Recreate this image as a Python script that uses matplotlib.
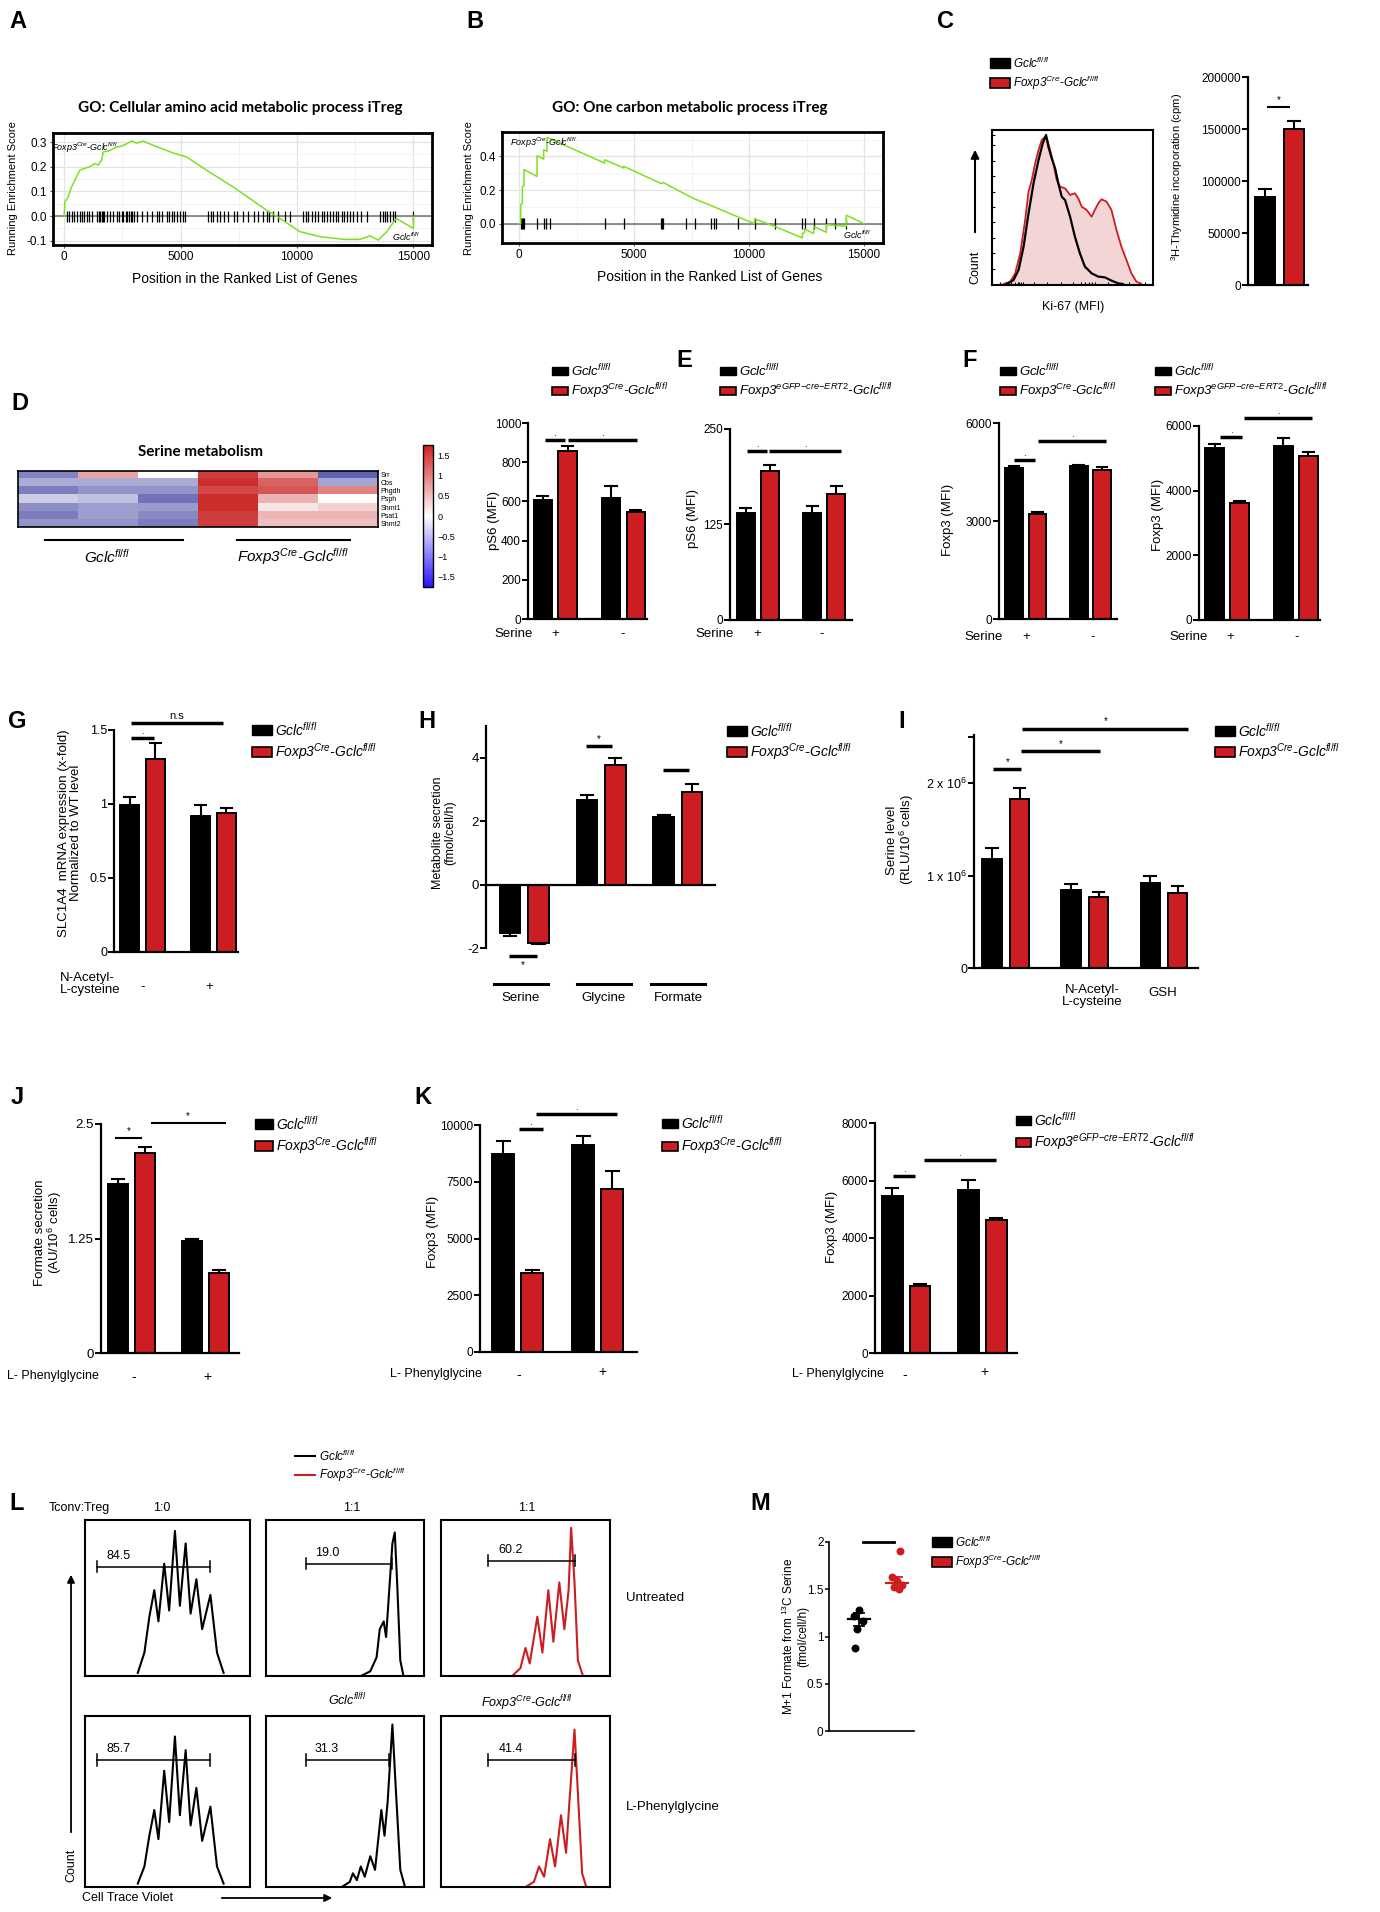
import matplotlib
matplotlib.use('Agg')
import matplotlib.pyplot as plt
from matplotlib.patches import Rectangle
from matplotlib.colors import LinearSegmentedColormap, Normalize
import matplotlib.colorbar as mcolorbar

plt.rcParams['font.family'] = ['Liberation Sans', 'DejaVu Sans']
plt.rcParams['mathtext.fontset'] = 'custom'
plt.rcParams['mathtext.rm'] = 'Liberation Sans'
plt.rcParams['mathtext.it'] = 'Liberation Sans:italic'
plt.rcParams['mathtext.bf'] = 'Liberation Sans:bold'
plt.rcParams['mathtext.default'] = 'it'
plt.rcParams['axes.unicode_minus'] = False

# ------------------------------------------------------------------ data
A_pos = [0, 30, 170, 315, 530, 673, 817, 1100, 1318, 1460, 1605, 1676, 1963, 2250, 2450, 2680,
         2894, 3110, 3395, 3825, 4685, 5258, 6117, 7264, 8696, 9270, 10129, 10989, 11991,
         12708, 13138, 13496, 13854, 14212, 14284, 15000, 15000]
A_es = [0, 0.058, 0.078, 0.118, 0.159, 0.186, 0.192, 0.2, 0.213, 0.207, 0.226, 0.26, 0.266,
        0.28, 0.283, 0.293, 0.304, 0.296, 0.304, 0.287, 0.256, 0.24, 0.186, 0.118, 0.024,
        -0.009, -0.063, -0.083, -0.094, -0.094, -0.08, -0.097, -0.063, -0.016, -0.01, -0.05, 0]
A_hits = [100, 215, 315, 415, 560, 675, 775, 845, 990, 1075, 1175, 1390, 1475, 1535, 1605, 1650,
          1720, 1820, 1965, 2080, 2250, 2365, 2465, 2535, 2650, 2720, 2795, 2850, 2910, 3010,
          3140, 3325, 3540, 3755, 3970, 4085, 4215, 4400, 4515, 4615, 4715, 4860, 4975, 5090,
          5190, 6190, 6290, 6405, 6550, 6690, 6865, 7050, 7295, 7410, 7665, 7910, 8155, 8340,
          8525, 8700, 8815, 8985, 9200, 9485, 9700, 10275, 10390, 10490, 10635, 10775, 10920,
          11065, 11165, 11280, 11420, 11565, 11680, 11780, 11920, 12025, 12140, 12280, 12425,
          12570, 12740, 13000, 13570, 13685, 13785, 13885, 14000, 14115, 14215, 15000]

B_pos = [0, 72, 72, 145, 145, 217, 217, 783, 783, 1072, 1072, 1217, 1217, 3724, 3724, 4550,
         4550, 6187, 6260, 7274, 7636, 8433, 9520, 10245, 10245, 11114, 12317, 12317, 12418,
         12418, 12809, 12809, 13360, 13360, 14229, 14229, 15000]
B_es = [0, 0, 0.113, 0.119, 0.222, 0.226, 0.321, 0.281, 0.404, 0.384, 0.44, 0.43, 0.513, 0.36,
        0.38, 0.331, 0.341, 0.238, 0.245, 0.172, 0.147, 0.103, 0.04, 0.0, 0.028, -0.016,
        -0.085, -0.06, -0.051, -0.032, -0.059, -0.016, -0.051, -0.006, -0.016, 0.05, 0]
B_hits = [101, 145, 188, 217, 783, 1072, 1159, 1362, 3724, 4550, 6158, 6216, 6260, 7274, 7636,
          8361, 8462, 8549, 9520, 10245, 11114, 12317, 12418, 12809, 13360, 13722, 14229]

C_red_x = [7.2, 11.3, 14.4, 17.5, 20.6, 22.7, 24.7, 26.8, 28.9, 30.9, 33.0, 34.4, 36.1, 38.1,
           40.2, 42.3, 45.4, 48.5, 51.5, 53.6, 55.7, 58.8, 61.9, 63.9, 66.0, 68.0, 71.1, 74.2,
           77.3, 80.4, 83.5, 86.6, 89.7, 92.8]
C_red_y = [0, 1.5, 6.9, 19.9, 41.6, 60, 67.5, 78.4, 87, 93.5, 95.7, 93.5, 87, 78.4, 67.5, 63.2,
           62.1, 57.8, 58.9, 55.6, 50.2, 48.1, 43.7, 48.1, 52.4, 55, 53.5, 48.1, 35.1, 24.2,
           15.6, 6.9, 1.5, 0]
C_black_x = [9.3, 13.4, 16.5, 19.6, 22.7, 25.8, 28.9, 31.5, 33.6, 35.0, 37.1, 39.2, 41.2, 43.3,
             45.4, 48.5, 51.5, 54.6, 57.7, 61.9, 66.0, 70.1, 74.2, 78.4, 81.4]
C_black_y = [0, 2.6, 9.1, 24.2, 45.9, 65.4, 80.5, 91.3, 96.8, 89.2, 81.6, 75.1, 65.4, 56.7,
             54.5, 43.7, 30.7, 19.9, 11.3, 6.9, 4.8, 4.3, 2.2, 0.4, 0]
C_means = [85000, 150000]
C_sem = [7000, 8000]

D_genes = ['Srr', 'Cbs', 'Phgdh', 'Psph', 'Shmt1', 'Psat1', 'Shmt2']
D_values = [[-1.1, 0.7, 0.0, 1.5, 0.8, -1.4],
            [-0.75, -0.75, -0.75, 1.6, 1.2, -0.8],
            [-1.15, -0.95, -0.95, 1.4, 1.3, 0.95],
            [-0.45, -0.55, -1.25, 1.6, 0.6, 0.0],
            [-1.0, -0.85, -0.9, 1.6, 0.2, 0.35],
            [-1.15, -0.85, -1.05, 1.5, 0.55, 0.55],
            [-0.95, -0.95, -1.15, 1.5, 0.5, 0.5]]

E1_means = [609, 859, 617, 546]
E1_sem = [17, 22, 60, 8]
E2_means = [140, 195, 140, 165]
E2_sem = [7, 8, 8.6, 11]
F1_means = [4622, 3214, 4673, 4551]
F1_sem = [51, 62, 31, 92]
F2_means = [5309, 3608, 5381, 5082]
F2_sem = [134, 83, 238, 124]
G_means = [0.99, 1.305, 0.92, 0.94]
G_sem = [0.055, 0.105, 0.07, 0.03]
H_means = [-1.526, -1.84, 2.66, 3.78, 2.14, 2.93]
H_sem = [0.085, 0.03, 0.16, 0.22, 0.05, 0.23]
I_means = [1.178e6, 1.83e6, 0.84e6, 0.768e6, 0.922e6, 0.814e6]
I_sem = [0.119e6, 0.116e6, 0.068e6, 0.057e6, 0.068e6, 0.076e6]
J_means = [1.846, 2.187, 1.225, 0.872]
J_sem = [0.058, 0.058, 0.021, 0.036]
K1_means = [8721, 3471, 9118, 7176]
K1_sem = [573, 132, 411, 809]
K2_means = [5449, 2319, 5681, 4614]
K2_sem = [279, 81, 325, 93]

# CTV histograms (panel L), normalised position / height
L_tl_x = [0.32, 0.36, 0.39, 0.42, 0.445, 0.48, 0.51, 0.545, 0.575, 0.61, 0.64, 0.675, 0.71, 0.76, 0.80, 0.84]
L_tl_y = [0.02, 0.15, 0.38, 0.55, 0.35, 0.72, 0.42, 0.93, 0.45, 0.85, 0.40, 0.62, 0.30, 0.52, 0.15, 0.02]
L_tm_x = [0.60, 0.66, 0.70, 0.72, 0.745, 0.76, 0.78, 0.80, 0.815, 0.83, 0.85, 0.87]
L_tm_y = [0.0, 0.03, 0.12, 0.30, 0.35, 0.25, 0.55, 0.85, 0.92, 0.6, 0.1, 0.0]
L_tr_x = [0.42, 0.47, 0.50, 0.525, 0.57, 0.60, 0.635, 0.665, 0.70, 0.73, 0.755, 0.77, 0.79, 0.81, 0.84]
L_tr_y = [0.0, 0.05, 0.18, 0.08, 0.38, 0.15, 0.55, 0.22, 0.60, 0.30, 0.55, 0.95, 0.6, 0.1, 0.0]
L_bl_x = [0.32, 0.36, 0.39, 0.42, 0.445, 0.48, 0.51, 0.545, 0.575, 0.61, 0.64, 0.675, 0.71, 0.76, 0.80, 0.84]
L_bl_y = [0.02, 0.12, 0.30, 0.45, 0.28, 0.68, 0.38, 0.88, 0.42, 0.80, 0.36, 0.58, 0.27, 0.47, 0.12, 0.02]
L_bm_x = [0.48, 0.53, 0.55, 0.575, 0.60, 0.625, 0.66, 0.69, 0.73, 0.75, 0.77, 0.80, 0.82, 0.85, 0.88]
L_bm_y = [0.0, 0.03, 0.08, 0.04, 0.12, 0.06, 0.18, 0.10, 0.45, 0.30, 0.50, 0.95, 0.6, 0.1, 0.0]
L_br_x = [0.50, 0.55, 0.58, 0.61, 0.645, 0.675, 0.71, 0.74, 0.76, 0.79, 0.81, 0.835, 0.86]
L_br_y = [0.0, 0.03, 0.12, 0.06, 0.28, 0.12, 0.42, 0.20, 0.50, 0.92, 0.55, 0.08, 0.0]
L_gates = ['84.5', '19.0', '60.2', '85.7', '31.3', '41.4']

M_black = [1.277, 1.213, 1.161, 1.084, 0.877]
M_red = [1.90, 1.63, 1.59, 1.55, 1.52, 1.50]
M_mean = [1.18, 1.57]
M_sem = [0.07, 0.06]

# ------------------------------------------------------------------ style
W, H = 1380, 1912
RED = '#cc1e22'
GREEN = '#7fe01f'
GCLC = 'Gclc$^{fl/fl}$'
CRE = 'Foxp3$^{Cre}$-Gclc$^{fl/fl}$'
ERT = 'Foxp3$^{eGFP{-}cre{-}ERT2}$-Gclc$^{fl/fl}$'

fig = plt.figure(figsize=(W / 100, H / 100), dpi=100)
fig.patch.set_facecolor('white')


def add_ax(x0, y0, x1, y1):
    return fig.add_axes([x0 / W, 1 - y1 / H, (x1 - x0) / W, (y1 - y0) / H])


def bar_panel(box, pos, means, sems, xlim, ylim, yticks, ylabels, width=0.75, fs=8.5):
    ax = add_ax(*box)
    cols = ['black' if i % 2 == 0 else RED for i in range(len(means))]
    for p, m, s in zip(pos, means, sems):
        d = 1 if m >= 0 else -1
        ax.plot([p, p], [m, m + d * s], color='black', lw=1.5, zorder=1)
        ax.plot([p - width * 0.3, p + width * 0.3], [m + d * s] * 2, color='black', lw=1.5, zorder=1)
    ax.bar(pos, means, width=width, color=cols, edgecolor='black', linewidth=1.4, zorder=2)
    ax.set_xlim(*xlim)
    ax.set_ylim(*ylim)
    for s in ['top', 'right']:
        ax.spines[s].set_visible(False)
    ax.spines['left'].set_linewidth(1.6)
    ax.spines['bottom'].set_linewidth(1.6)
    ax.set_yticks(yticks)
    ax.set_yticklabels(ylabels, fontsize=fs)
    ax.tick_params(axis='y', length=4, width=1.4, pad=1)
    ax.tick_params(axis='x', bottom=False, labelbottom=False)
    ax.patch.set_alpha(0)
    return ax


def sig(ax, x0, x1, y, label='*', lw=2.5, below=False, fs=7):
    ax.plot([x0, x1], [y, y], color='black', lw=lw, clip_on=False, solid_capstyle='butt')
    if label:
        if below:
            ax.annotate(label, (0.5 * (x0 + x1), y), xytext=(0, -3), textcoords='offset points',
                        ha='center', va='top', fontsize=fs, annotation_clip=False)
        else:
            ax.annotate(label, (0.5 * (x0 + x1), y), xytext=(0, 1.5), textcoords='offset points',
                        ha='center', va='bottom', fontsize=fs, annotation_clip=False)


def gsea(box, x, y, hits, half, xlim, ylim, yticks, ylabels, yminor):
    ax = add_ax(*box)
    ax.set_xlim(*xlim)
    ax.set_ylim(*ylim)
    ax.set_xticks([0, 5000, 10000, 15000])
    ax.set_xticks([2500, 7500, 12500], minor=True)
    ax.set_xticklabels(['0', '5000', '10000', '15000'], fontsize=8.5)
    ax.set_yticks(yticks)
    ax.set_yticklabels(ylabels, fontsize=8.5)
    ax.set_yticks(yminor, minor=True)
    ax.grid(which='major', color='#e3e3e3', lw=0.9)
    ax.grid(which='minor', color='#f1f1f1', lw=0.6)
    ax.set_axisbelow(True)
    ax.axhline(0, color='#7a7a7a', lw=1.2, zorder=2)
    ax.vlines(hits, -half, half, color='black', lw=0.9, zorder=3)
    ax.plot(x, y, color=GREEN, lw=1.1, zorder=4)
    for s in ax.spines.values():
        s.set_linewidth(2)
    ax.tick_params(which='major', length=2.5, color='#555555', pad=2)
    ax.tick_params(which='minor', length=0)
    return ax


# ------------------------------------------------------------------ A
axA = gsea((53, 133, 432, 245), A_pos, A_es, A_hits, 0.022, (-480, 15800), (-0.117, 0.337),
           [-0.1, 0.0, 0.1, 0.2, 0.3], ['-0.1', '0.0', '0.1', '0.2', '0.3'],
           [-0.05, 0.05, 0.15, 0.25])
# ------------------------------------------------------------------ B
axB = gsea((502, 132, 883, 243), B_pos, B_es, B_hits, 0.033, (-740, 15826), (-0.115, 0.545),
           [0.0, 0.2, 0.4], ['0.0', '0.2', '0.4'], [-0.1, 0.1, 0.3, 0.5])

# ------------------------------------------------------------------ C
axCh = add_ax(992, 130, 1153, 285)
axCh.fill_between(C_red_x, C_red_y, 0, color='#f3d5d5', lw=0, zorder=1)
axCh.plot(C_red_x, C_red_y, color=RED, lw=1.3, zorder=2)
axCh.plot(C_black_x, C_black_y, color='black', lw=1.6, zorder=3)
axCh.set_xlim(0, 100)
axCh.set_ylim(-0.65, 100)
for s in axCh.spines.values():
    s.set_linewidth(1.5)
axCh.set_xticks([5, 9, 12, 14, 16, 17, 18, 19, 26, 34, 43, 50, 55, 58, 60, 62, 64, 72, 85, 92, 95])
axCh.set_yticks([10, 20, 30, 40, 50, 60, 70, 80, 90, 97])
axCh.tick_params(axis='both', direction='in', length=2.5, width=0.8, labelbottom=False,
                 labelleft=False)

axC = bar_panel((1248, 77, 1308, 285), [0, 1], C_means, C_sem, (-0.6, 1.5), (0, 200000),
                [0, 50000, 100000, 150000, 200000],
                ['0', '50000', '100000', '150000', '200000'], width=0.7, fs=8.5)
sig(axC, 0.07, 0.88, 171000, lw=1.5)

# ------------------------------------------------------------------ D
muted = LinearSegmentedColormap.from_list('muted', ['#3b3b9e', '#ffffff', '#c81c1c'])
bright = LinearSegmentedColormap.from_list('bright', ['#2a14ff', '#ffffff', '#d41f1f'])
axD = add_ax(18, 471, 378, 527)
axD.imshow(D_values, cmap=muted, vmin=-1.75, vmax=1.75, aspect='auto', interpolation='nearest')
axD.set_xticks([])
axD.set_yticks(range(len(D_genes)))
axD.set_yticklabels(D_genes, fontsize=5)
axD.yaxis.tick_right()
axD.tick_params(length=0, pad=2)
for s in axD.spines.values():
    s.set_linewidth(1.2)
cax = add_ax(423, 445, 433, 587)
cb = mcolorbar.ColorbarBase(cax, cmap=bright, norm=Normalize(-1.75, 1.75),
                            ticks=[-1.5, -1, -0.5, 0, 0.5, 1, 1.5])
cb.ax.set_yticklabels(['\u22121.5', '\u22121', '\u22120.5', '0', '0.5', '1', '1.5'], fontsize=6.5)
cb.ax.tick_params(length=0, pad=3)
cb.outline.set_linewidth(1)

# ------------------------------------------------------------------ E
pos4 = [0, 1, 2.75, 3.75]
axE1 = bar_panel((528, 423, 647, 619), pos4, E1_means, E1_sem, (-0.6, 4.2), (0, 1000),
                 [0, 200, 400, 600, 800, 1000], ['0', '200', '400', '600', '800', '1000'])
sig(axE1, 0.08, 0.88, 915, label='.')
sig(axE1, 1.0, 3.8, 915, label='.')
axE2 = bar_panel((730, 429, 852, 620), pos4, E2_means, E2_sem, (-0.65, 4.4), (0, 250),
                 [0, 125, 250], ['0', '125', '250'])
sig(axE2, 0.06, 0.9, 220.7, label='.')
sig(axE2, 0.98, 3.94, 220.7, label='.')

# ------------------------------------------------------------------ F
axF1 = bar_panel((999, 423, 1117, 619), pos4, F1_means, F1_sem, (-0.64, 4.38), (0, 6000),
                 [0, 3000, 6000], ['0', '3000', '6000'])
sig(axF1, 0.0, 0.9, 4857, label='.')
sig(axF1, 1.02, 3.92, 5439, label='.')
axF2 = bar_panel((1199, 426, 1320, 620), pos4, F2_means, F2_sem, (-0.62, 4.22), (0, 6000),
                 [0, 2000, 4000, 6000], ['0', '2000', '4000', '6000'])
sig(axF2, 0.22, 1.1, 5670, label='.')
sig(axF2, 1.18, 3.9, 6237, label='.')

# ------------------------------------------------------------------ G
axG = bar_panel((114, 730, 238, 952), pos4, G_means, G_sem, (-0.6, 4.2), (0, 1.5),
                [0, 0.5, 1, 1.5], ['0', '0.5', '1', '1.5'], fs=9)
sig(axG, 0.04, 0.96, 1.444, label='.', lw=2.5)
sig(axG, 0.04, 3.6, 1.55, label='n.s', lw=2.5, fs=8)

# ------------------------------------------------------------------ H
pos6H = [0, 1, 2.7, 3.7, 5.4, 6.4]
axH = bar_panel((486, 726, 715, 948), pos6H, H_means, H_sem, (-0.84, 7.2), (-2, 5),
                [-2, 0, 2, 4], ['-2', '0', '2', '4'], width=0.72, fs=9.5)
axH.spines['bottom'].set_position(('data', 0))
sig(axH, -0.03, 0.95, -2.24, below=True)
sig(axH, 2.67, 3.6, 4.37)
sig(axH, 5.37, 6.3, 3.61, label='')

# ------------------------------------------------------------------ I
pos6I = [0, 1, 2.9, 3.9, 5.8, 6.8]
axI = bar_panel((974, 735, 1198, 968), pos6I, I_means, I_sem, (-0.67, 7.55), (0, 2.52e6),
                [0, 1e6, 2e6, 2.5e6], ['0', '1 x 10$\\mathregular{^6}$', '2 x 10$\\mathregular{^6}$', ''],
                width=0.72, fs=9)
sig(axI, 0.04, 1.07, 2.15e6)
sig(axI, 1.07, 3.96, 2.35e6)
sig(axI, 1.1, 7.2, 2.59e6)

# ------------------------------------------------------------------ J
axJ = bar_panel((101, 1124, 239, 1353), pos4, J_means, J_sem, (-0.65, 4.5), (0, 2.5),
                [0, 1.25, 2.5], ['0', '1.25', '2.5'], fs=9.5)
sig(axJ, -0.13, 0.87, 2.35, lw=1.5)
sig(axJ, 1.2, 4.0, 2.507, lw=1.5)

# ------------------------------------------------------------------ K
axK1 = bar_panel((480, 1125, 637, 1352), pos4, K1_means, K1_sem, (-0.8, 4.6), (0, 10000),
                 [0, 2500, 5000, 7500, 10000], ['0', '2500', '5000', '7500', '10000'], fs=8.5)
sig(axK1, 0.53, 1.37, 9809, label='.')
sig(axK1, 1.14, 3.92, 10485, label='.')
axK2 = bar_panel((875, 1123, 1017, 1353), pos4, K2_means, K2_sem, (-0.62, 4.5), (0, 8000),
                 [0, 2000, 4000, 6000, 8000], ['0', '2000', '4000', '6000', '8000'], fs=8.5)
sig(axK2, 0.04, 0.84, 6168, label='.')
sig(axK2, 1.13, 3.75, 6701, label='.')

# ------------------------------------------------------------------ L
L_boxes = [(85, 1520, 250, 1676), (266, 1520, 424, 1676), (441, 1520, 610, 1676),
           (85, 1716, 250, 1887), (266, 1716, 424, 1887), (441, 1716, 610, 1887)]
L_curves = [(L_tl_x, L_tl_y, 'black'), (L_tm_x, L_tm_y, 'black'), (L_tr_x, L_tr_y, RED),
            (L_bl_x, L_bl_y, 'black'), (L_bm_x, L_bm_y, 'black'), (L_br_x, L_br_y, RED)]
L_gate_span = [(0.07, 0.76), (0.25, 0.80), (0.28, 0.79), (0.07, 0.76), (0.25, 0.78), (0.28, 0.79)]
L_gate_y = [0.70, 0.72, 0.74, 0.74, 0.74, 0.74]
for box, (cx, cy, col), (g0, g1), gy, lab in zip(L_boxes, L_curves, L_gate_span, L_gate_y, L_gates):
    ax = add_ax(*box)
    ax.plot(cx, cy, color=col, lw=1.5, solid_joinstyle='round')
    ax.set_xlim(0, 1)
    ax.set_ylim(0, 1)
    ax.set_xticks([])
    ax.set_yticks([])
    for s in ax.spines.values():
        s.set_linewidth(1.5)
    ax.plot([g0, g1], [gy, gy], color='black', lw=1.1)
    ax.plot([g0, g0], [gy - 0.035, gy + 0.035], color='black', lw=1.1)
    ax.plot([g1, g1], [gy - 0.035, gy + 0.035], color='black', lw=1.1)
    ax.text(g0 + 0.06, gy + 0.03, lab, fontsize=9, va='bottom', ha='left')

# ------------------------------------------------------------------ M
axM = add_ax(829, 1542, 914, 1731)
axM.set_xlim(0, 1)
axM.set_ylim(0, 2)
xb = [0.35, 0.29, 0.40, 0.33, 0.31]
xr = [0.84, 0.74, 0.80, 0.86, 0.76, 0.82]
axM.scatter(xb, M_black, s=22, color='black', zorder=3)
axM.scatter(xr, M_red, s=22, color=RED, zorder=3)
for xc, m, s, c in zip([0.35, 0.80], M_mean, M_sem, ['black', RED]):
    axM.plot([xc - 0.13, xc + 0.13], [m, m], color=c, lw=1.6, zorder=4)
    axM.plot([xc, xc], [m - s, m + s], color=c, lw=1.3, zorder=4)
    axM.plot([xc - 0.06, xc + 0.06], [m + s, m + s], color=c, lw=1.3, zorder=4)
    axM.plot([xc - 0.06, xc + 0.06], [m - s, m - s], color=c, lw=1.3, zorder=4)
axM.plot([0.4, 0.76], [2.0, 2.0], color='black', lw=2, clip_on=False)
for s in ['top', 'right']:
    axM.spines[s].set_visible(False)
axM.spines['left'].set_linewidth(1.2)
axM.spines['bottom'].set_linewidth(1.2)
axM.set_yticks([0, 0.5, 1, 1.5, 2])
axM.set_yticklabels(['0', '0.5', '1', '1.5', '2'], fontsize=8.5)
axM.tick_params(axis='y', length=3, width=1.1, pad=1)
axM.tick_params(axis='x', bottom=False, labelbottom=False)
axM.patch.set_alpha(0)

# ------------------------------------------------------------------ overlay text
ov = fig.add_axes([0, 0, 1, 1])
ov.set_xlim(0, W)
ov.set_ylim(H, 0)
ov.axis('off')
ov.patch.set_visible(False)


def T(x, y, s, **kw):
    kw.setdefault('ha', 'center')
    kw.setdefault('va', 'center')
    ov.text(x, y, s, **kw)


def legend2(x, yb, yr, lab2, fs=10, w=18, h=9):
    ov.add_patch(Rectangle((x, yb - h / 2), w, h, facecolor='black', edgecolor='black', lw=1))
    ov.add_patch(Rectangle((x, yr - h / 2), w, h, facecolor=RED, edgecolor='black', lw=1.2))
    ov.text(x + w + 3, yb, GCLC, style='italic', fontsize=fs, va='center', ha='left')
    ov.text(x + w + 3, yr, lab2, style='italic', fontsize=fs, va='center', ha='left')


for letter, x, y in [('A', 18, 21), ('B', 475, 21), ('C', 945, 21), ('D', 20, 403),
                     ('E', 684, 360), ('F', 970, 360), ('G', 17, 722), ('H', 427, 722),
                     ('I', 902, 722), ('J', 17, 1097), ('K', 423, 1097), ('L', 17, 1503),
                     ('M', 760, 1503)]:
    T(x, y, letter, fontsize=17, fontweight='bold')

# A / B texts
T(240, 108, 'GO: Cellular amino acid metabolic process iTreg', fontsize=11, fontweight='bold',
  family=['Lato', 'DejaVu Sans'])
T(245, 279, 'Position in the Ranked List of Genes', fontsize=10)
T(13, 188, 'Running Enrichment Score', fontsize=8, rotation=90)
T(51, 148, CRE, fontsize=6.5, style='italic', ha='left')
T(392, 237, GCLC, fontsize=6.5, style='italic', ha='left')
T(690, 108, 'GO: One carbon metabolic process iTreg', fontsize=11, fontweight='bold',
  family=['Lato', 'DejaVu Sans'])
T(710, 277, 'Position in the Ranked List of Genes', fontsize=10)
T(469, 188, 'Running Enrichment Score', fontsize=8, rotation=90)
T(510, 143, CRE, fontsize=6.5, style='italic', ha='left')
T(843, 235, GCLC, fontsize=6.5, style='italic', ha='left')

# C texts
legend2(990, 63, 83, CRE, fs=8.5, w=20, h=10)
T(1073, 307, 'Ki-67 (MFI)', fontsize=9)
T(975, 267, 'Count', fontsize=9, rotation=90)
ov.annotate('', xy=(975, 147), xytext=(975, 235),
            arrowprops=dict(arrowstyle='-|>', color='black', lw=1.5, mutation_scale=12))
T(1177, 177, '$\\mathregular{^3}$H-Thymidine incorporation (cpm)', fontsize=8, rotation=90)

# D texts
T(200, 452, 'Serine metabolism', fontsize=11, fontweight='bold', family=['Lato', 'DejaVu Sans'])
ov.plot([45, 183], [540, 540], color='black', lw=1.5)
ov.plot([237, 350], [540, 540], color='black', lw=1.5)
T(107, 557, GCLC, fontsize=11, style='italic')
T(293, 557, CRE, fontsize=11, style='italic')

# E texts
legend2(552, 371, 391, CRE, fs=9.5, w=16, h=8)
legend2(720, 371, 391, ERT, fs=9.5, w=16, h=8)
T(494, 521, 'pS6 (MFI)', fontsize=9.5, rotation=90)
T(693, 518, 'pS6 (MFI)', fontsize=9.5, rotation=90)
for x, s in [(533, 'Serine'), (734, 'Serine')]:
    T(x, 634, s, fontsize=9.5, ha='right')
for x, s in [(555, '+'), (623, '-'), (757, '+'), (822, '-')]:
    T(x, 634, s, fontsize=9.5)

# F texts
legend2(1000, 371, 391, CRE, fs=9.5, w=16, h=8)
legend2(1155, 371, 391, ERT, fs=9.5, w=16, h=8)
T(948, 520, 'Foxp3 (MFI)', fontsize=9.5, rotation=90)
T(1158, 515, 'Foxp3 (MFI)', fontsize=9.5, rotation=90)
for x, s in [(1003, 'Serine'), (1208, 'Serine')]:
    T(x, 637, s, fontsize=9.5, ha='right')
for x, s in [(1026, '+'), (1093, '-'), (1230, '+'), (1297, '-')]:
    T(x, 637, s, fontsize=9.5)

# G texts
legend2(252, 730, 752, CRE, fs=10, w=20, h=10)
T(70, 833, 'SLC1A4  mRNA expression (x-fold)\nNormalized to WT level', fontsize=9.5,
  rotation=90, linespacing=1.05)
T(60, 984, 'N-Acetyl-\nL-cysteine', fontsize=9.5, ha='left', linespacing=1.1)
T(143, 987, '-', fontsize=9.5)
T(209, 987, '+', fontsize=9.5)

# H texts
legend2(727, 731, 752, CRE, fs=10, w=20, h=10)
T(444, 833, 'Metabolite secretion\n(fmol/cell/h)', fontsize=9, rotation=90, linespacing=1.05)
for (x0, x1), lab in zip([(494, 548), (577, 631), (651, 705)], ['Serine', 'Glycine', 'Formate']):
    ov.plot([x0, x1], [984, 984], color='black', lw=2.2)
    T(0.5 * (x0 + x1), 998, lab, fontsize=9.5)

# I texts
legend2(1215, 731, 752, CRE, fs=10, w=20, h=10)
T(901, 840, 'Serine level\n(RLU/10$\\mathregular{^6}$ cells)', fontsize=9.5, rotation=90,
  linespacing=1.05)
T(1092, 996, 'N-Acetyl-\nL-cysteine', fontsize=9.5, linespacing=1.1)
T(1163, 993, 'GSH', fontsize=9.5)

# J texts
legend2(255, 1124, 1146, CRE, fs=10, w=18, h=10)
T(49, 1233, 'Formate secretion\n(AU/10$\\mathregular{^6}$ cells)', fontsize=9.5, rotation=90,
  linespacing=1.05)
T(7, 1376, 'L- Phenylglycine', fontsize=9, ha='left')
T(134, 1377, '-', fontsize=10)
T(207, 1377, '+', fontsize=10)

# K texts
legend2(662, 1123, 1146, CRE, fs=10, w=16, h=9)
T(433, 1232, 'Foxp3 (MFI)', fontsize=9.5, rotation=90)
T(390, 1374, 'L- Phenylglycine', fontsize=9, ha='left')
T(519, 1375, '-', fontsize=10)
T(602, 1372, '+', fontsize=10)
legend2(1016, 1120, 1142, ERT, fs=10, w=15, h=9)
T(832, 1227, 'Foxp3 (MFI)', fontsize=9.5, rotation=90)
T(792, 1374, 'L- Phenylglycine', fontsize=9, ha='left')
T(905, 1375, '-', fontsize=10)
T(984, 1372, '+', fontsize=10)

# L texts
ov.plot([295, 315], [1456, 1456], color='black', lw=1.5)
ov.plot([295, 315], [1475, 1475], color=RED, lw=1.5)
T(319, 1456, GCLC, fontsize=8.5, style='italic', ha='left')
T(319, 1475, CRE, fontsize=8.5, style='italic', ha='left')
T(49, 1508, 'Tconv:Treg', fontsize=9, ha='left')
T(162, 1508, '1:0', fontsize=9)
T(352, 1508, '1:1', fontsize=9)
T(527, 1508, '1:1', fontsize=9)
T(347, 1700, GCLC, fontsize=9, style='italic')
T(527, 1703, CRE, fontsize=9, style='italic')
T(655, 1598, 'Untreated', fontsize=9.5)
T(673, 1807, 'L-Phenylglycine', fontsize=9.5)
T(71, 1865, 'Count', fontsize=9, rotation=90)
ov.annotate('', xy=(71, 1572), xytext=(71, 1835),
            arrowprops=dict(arrowstyle='-|>', color='black', lw=1.3, mutation_scale=11))
T(82, 1898, 'Cell Trace Violet', fontsize=9, ha='left')
ov.annotate('', xy=(335, 1898), xytext=(219, 1898),
            arrowprops=dict(arrowstyle='-|>', color='black', lw=1.3, mutation_scale=11))

# M texts
legend2(932, 1542, 1562, CRE, fs=8.5, w=20, h=10)
T(795, 1636, 'M+1 Formate from $\\mathregular{^{13}}$C Serine\n(fmol/cell/h)', fontsize=8.5,
  rotation=90, linespacing=1.05)

fig.savefig('out.png', dpi=100, facecolor='white')
